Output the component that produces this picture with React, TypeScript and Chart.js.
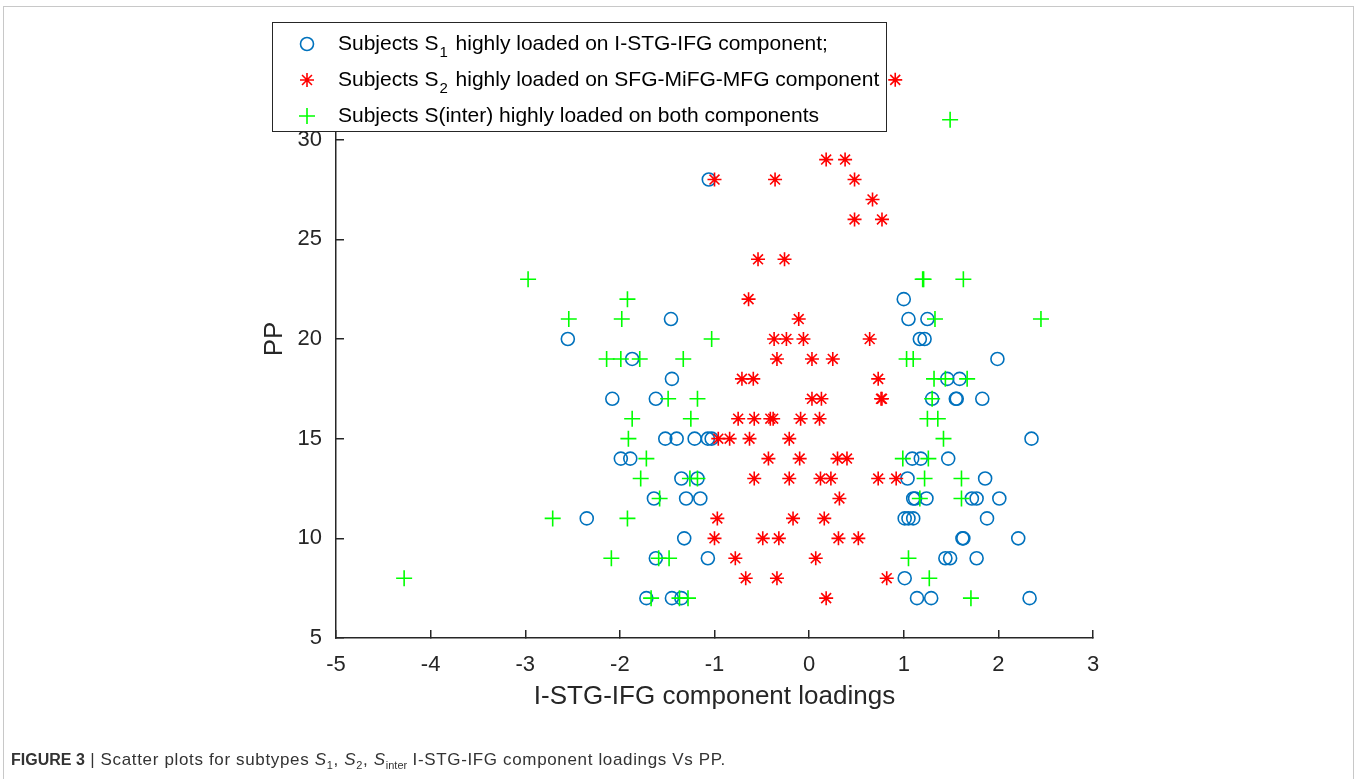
import React, { useEffect, useRef } from 'react';
import { Chart, registerables } from 'chart.js';

Chart.register(...registerables);

// Subjects S1 (blue circles)
const s1X = [
  -1.06,
  1.0,
  -1.46, 1.05, 1.25,
  -2.55, 1.17, 1.22,
  -1.87, 1.99,
  -1.45, 1.46, 1.59,
  -2.08, -1.62, 1.3, 1.55, 1.56, 1.83,
  -1.52, -1.4, -1.21, -1.07, -1.03, 2.35,
  -1.99, -1.89, 1.09, 1.18, 1.47,
  -1.35, -1.18, 1.04, 1.86,
  -1.64, -1.3, -1.15, 1.1, 1.12, 1.24, 1.72, 1.77, 2.01,
  -2.35, 1.01, 1.05, 1.1, 1.88,
  -1.32, 1.62, 1.63, 2.21,
  -1.62, -1.07, 1.44, 1.49, 1.77,
  1.01,
  -1.72, -1.45, -1.35, 1.14, 1.29, 2.33,
];
const s1Y = [
  28,
  22,
  21, 21, 21,
  20, 20, 20,
  19, 19,
  18, 18, 18,
  17, 17, 17, 17, 17, 17,
  15, 15, 15, 15, 15, 15,
  14, 14, 14, 14, 14,
  13, 13, 13, 13,
  12, 12, 12, 12, 12, 12, 12, 12, 12,
  11, 11, 11, 11, 11,
  10, 10, 10, 10,
  9, 9, 9, 9, 9,
  8,
  7, 7, 7, 7, 7, 7,
];

// Subjects S2 (red asterisks)
const s2X = [
  0.91,
  0.18, 0.38,
  -1.0, -0.36, 0.48,
  0.67,
  0.48, 0.77,
  -0.54, -0.26,
  -0.64,
  -0.11,
  -0.37, -0.24, -0.06, 0.64,
  -0.34, 0.03, 0.25,
  -0.71, -0.59, 0.73,
  0.03, 0.13, 0.76, 0.77,
  -0.75, -0.58, -0.41, -0.38, -0.09, 0.11,
  -0.96, -0.84, -0.63, -0.21,
  -0.43, -0.1, 0.3, 0.4,
  -0.58, -0.21, 0.12, 0.23, 0.73, 0.92,
  0.32,
  -0.97, -0.17, 0.16,
  -1.0, -0.49, -0.32, 0.31, 0.52,
  -0.78, 0.07,
  -0.67, -0.34, 0.82,
  0.18,
];
const s2Y = [
  33,
  29, 29,
  28, 28, 28,
  27,
  26, 26,
  24, 24,
  22,
  21,
  20, 20, 20, 20,
  19, 19, 19,
  18, 18, 18,
  17, 17, 17, 17,
  16, 16, 16, 16, 16, 16,
  15, 15, 15, 15,
  14, 14, 14, 14,
  13, 13, 13, 13, 13, 13,
  12,
  11, 11, 11,
  10, 10, 10, 10, 10,
  9, 9,
  8, 8, 8,
  7,
];

// Subjects S(inter) (green plus)
const s3X = [
  1.49,
  -2.97, 1.2, 1.21, 1.63,
  -1.92,
  -2.54, -1.98, 1.33, 2.45,
  -1.03,
  -2.14, -1.99, -1.79, -1.33, 1.03, 1.1,
  1.32, 1.44, 1.67,
  -1.49, -1.18, 1.3,
  -1.87, -1.25, 1.25, 1.36,
  -1.91, 1.42,
  -1.72, 0.99, 1.26,
  -1.78, -1.26, -1.18, 1.22, 1.61,
  -1.58, 1.17, 1.61,
  -2.71, -1.92,
  -2.09, -1.59, -1.48, 1.05,
  -4.28, 1.27,
  -1.67, -1.37, -1.28, 1.71,
];
const s3Y = [
  31,
  23, 23, 23, 23,
  22,
  21, 21, 21, 21,
  20,
  19, 19, 19, 19, 19, 19,
  18, 18, 18,
  17, 17, 17,
  16, 16, 16, 16,
  15, 15,
  14, 14, 14,
  13, 13, 13, 13, 13,
  12, 12, 12,
  11, 11,
  9, 9, 9, 9,
  8, 8,
  7, 7, 7, 7,
];

const xTicks = [-5, -4, -3, -2, -1, 0, 1, 2, 3];
const yTicks = [5, 10, 15, 20, 25, 30];

const legendRows = [
  { pre: 'Subjects S', sub: '1', post: ' highly loaded on I-STG-IFG component;', color: '#0072BD', marker: 'circle' },
  { pre: 'Subjects S', sub: '2', post: ' highly loaded on SFG-MiFG-MFG component', color: '#FF0000', marker: 'star' },
  { pre: 'Subjects S(inter) highly loaded on both components', sub: '', post: '', color: '#00FF00', marker: 'cross' },
];

const FONT = '"Liberation Sans", Arial, Helvetica, sans-serif';
const AX = '#262626';

const toPts = (xs: number[], ys: number[]) => xs.map((x, i) => ({ x, y: ys[i] }));

const legendPlugin = {
  id: 'matlabLegend',
  afterDraw(chart: any) {
    const ctx = chart.ctx as CanvasRenderingContext2D;
    const bx = 272, by = 22, bw = 614, bh = 109;
    ctx.save();
    ctx.fillStyle = '#ffffff';
    ctx.fillRect(bx, by, bw, bh);
    ctx.strokeStyle = AX;
    ctx.lineWidth = 1;
    ctx.strokeRect(bx + 0.5, by + 0.5, bw, bh);
    const rowY = [44, 80, 116];
    const mx = 307;
    legendRows.forEach((row, i) => {
      const y = rowY[i];
      ctx.strokeStyle = row.color;
      ctx.lineWidth = 1.6;
      ctx.beginPath();
      if (row.marker === 'circle') {
        ctx.arc(mx, y, 6.5, 0, Math.PI * 2);
      } else if (row.marker === 'star') {
        const r = 7;
        for (let k = 0; k < 4; k++) {
          const a = (k * Math.PI) / 4;
          ctx.moveTo(mx - Math.cos(a) * r, y - Math.sin(a) * r);
          ctx.lineTo(mx + Math.cos(a) * r, y + Math.sin(a) * r);
        }
      } else {
        const r = 8;
        ctx.moveTo(mx - r, y);
        ctx.lineTo(mx + r, y);
        ctx.moveTo(mx, y - r);
        ctx.lineTo(mx, y + r);
      }
      ctx.stroke();
      ctx.fillStyle = '#000000';
      ctx.textBaseline = 'middle';
      ctx.textAlign = 'left';
      let tx = 338;
      ctx.font = `21px ${FONT}`;
      ctx.fillText(row.pre, tx, y);
      tx += ctx.measureText(row.pre).width;
      if (row.sub) {
        ctx.font = `15px ${FONT}`;
        ctx.fillText(row.sub, tx + 1, y + 9);
        tx += ctx.measureText(row.sub).width + 3;
        ctx.font = `21px ${FONT}`;
        ctx.fillText(row.post, tx, y);
      }
    });
    ctx.restore();
  },
};

export default function App() {
  const ref = useRef<HTMLCanvasElement>(null);

  useEffect(() => {
    if (!ref.current) return;
    const chart = new Chart(ref.current, {
      type: 'scatter',
      data: {
        datasets: [
          {
            label: 'S1',
            data: toPts(s1X, s1Y),
            pointStyle: 'circle',
            pointRadius: 6.5,
            pointBorderWidth: 1.6,
            borderColor: '#0072BD',
            backgroundColor: 'rgba(0,0,0,0)',
            order: 2,
          },
          {
            label: 'S2',
            data: toPts(s2X, s2Y),
            pointStyle: 'star',
            pointRadius: 7,
            pointBorderWidth: 1.6,
            borderColor: '#FF0000',
            backgroundColor: 'rgba(0,0,0,0)',
            order: 1,
          },
          {
            label: 'Sinter',
            data: toPts(s3X, s3Y),
            pointStyle: 'cross',
            pointRadius: 8,
            pointBorderWidth: 1.6,
            borderColor: '#00FF00',
            backgroundColor: 'rgba(0,0,0,0)',
            order: 0,
          },
        ],
      },
      options: {
        animation: false,
        responsive: false,
        devicePixelRatio: 1,
        layout: { padding: { left: 0, top: 40, right: 266, bottom: 67 } },
        plugins: { legend: { display: false }, tooltip: { enabled: false } },
        events: [],
        scales: {
          x: {
            type: 'linear',
            min: -5,
            max: 3,
            afterBuildTicks: (s: any) => {
              s.ticks = xTicks.map((v) => ({ value: v }));
            },
            afterFit: (s: any) => {
              s.height = 74;
            },
            grid: { drawOnChartArea: false, drawTicks: true, tickLength: -8, color: AX, lineWidth: 1.5 },
            border: { display: true, color: AX, width: 1.5 },
            ticks: { color: AX, font: { family: FONT, size: 22 }, padding: 22, maxRotation: 0 },
            title: {
              display: true,
              text: 'I-STG-IFG component loadings',
              color: AX,
              font: { family: FONT, size: 26 },
              padding: { top: 0, bottom: 0 },
            },
          },
          y: {
            type: 'linear',
            min: 5,
            max: 35,
            afterBuildTicks: (s: any) => {
              s.ticks = yTicks.map((v) => ({ value: v }));
            },
            afterFit: (s: any) => {
              s.width = 336;
            },
            grid: { drawOnChartArea: false, drawTicks: true, tickLength: -8, color: AX, lineWidth: 1.5 },
            border: { display: true, color: AX, width: 1.5 },
            ticks: { color: AX, font: { family: FONT, size: 22 }, padding: 22 },
            title: {
              display: true,
              text: 'PP',
              color: AX,
              font: { family: FONT, size: 26 },
              padding: { top: 259, bottom: 0 },
            },
          },
        },
      },
      plugins: [legendPlugin],
    } as any);
    return () => chart.destroy();
  }, []);

  return (
    <div style={{ position: 'fixed', left: 0, top: 0, width: 1359, height: 779, background: '#fff', overflow: 'hidden' }}>
      <div
        style={{
          position: 'absolute',
          left: 3,
          top: 6,
          width: 1351,
          height: 800,
          border: '1px solid #c8c8c8',
          boxSizing: 'border-box',
        }}
      />
      <canvas ref={ref} width={1359} height={779} style={{ position: 'absolute', left: 0, top: 0, width: 1359, height: 779 }} />
      <div
        style={{
          position: 'absolute',
          left: 11,
          top: 750,
          fontFamily: FONT,
          fontSize: 17,
          color: '#333',
          whiteSpace: 'nowrap',
        }}
      >
        <b style={{ fontSize: 16 }}>FIGURE 3</b>
        <span style={{ letterSpacing: '0.65px' }}>
          {' | Scatter plots for subtypes '}
          <i>S</i>
          <sub style={{ fontSize: 11 }}>1</sub>, <i>S</i>
          <sub style={{ fontSize: 11 }}>2</sub>, <i>S</i>
          <sub style={{ fontSize: 11, letterSpacing: 0 }}>inter</sub> I-STG-IFG component loadings Vs PP.
        </span>
      </div>
    </div>
  );
}
